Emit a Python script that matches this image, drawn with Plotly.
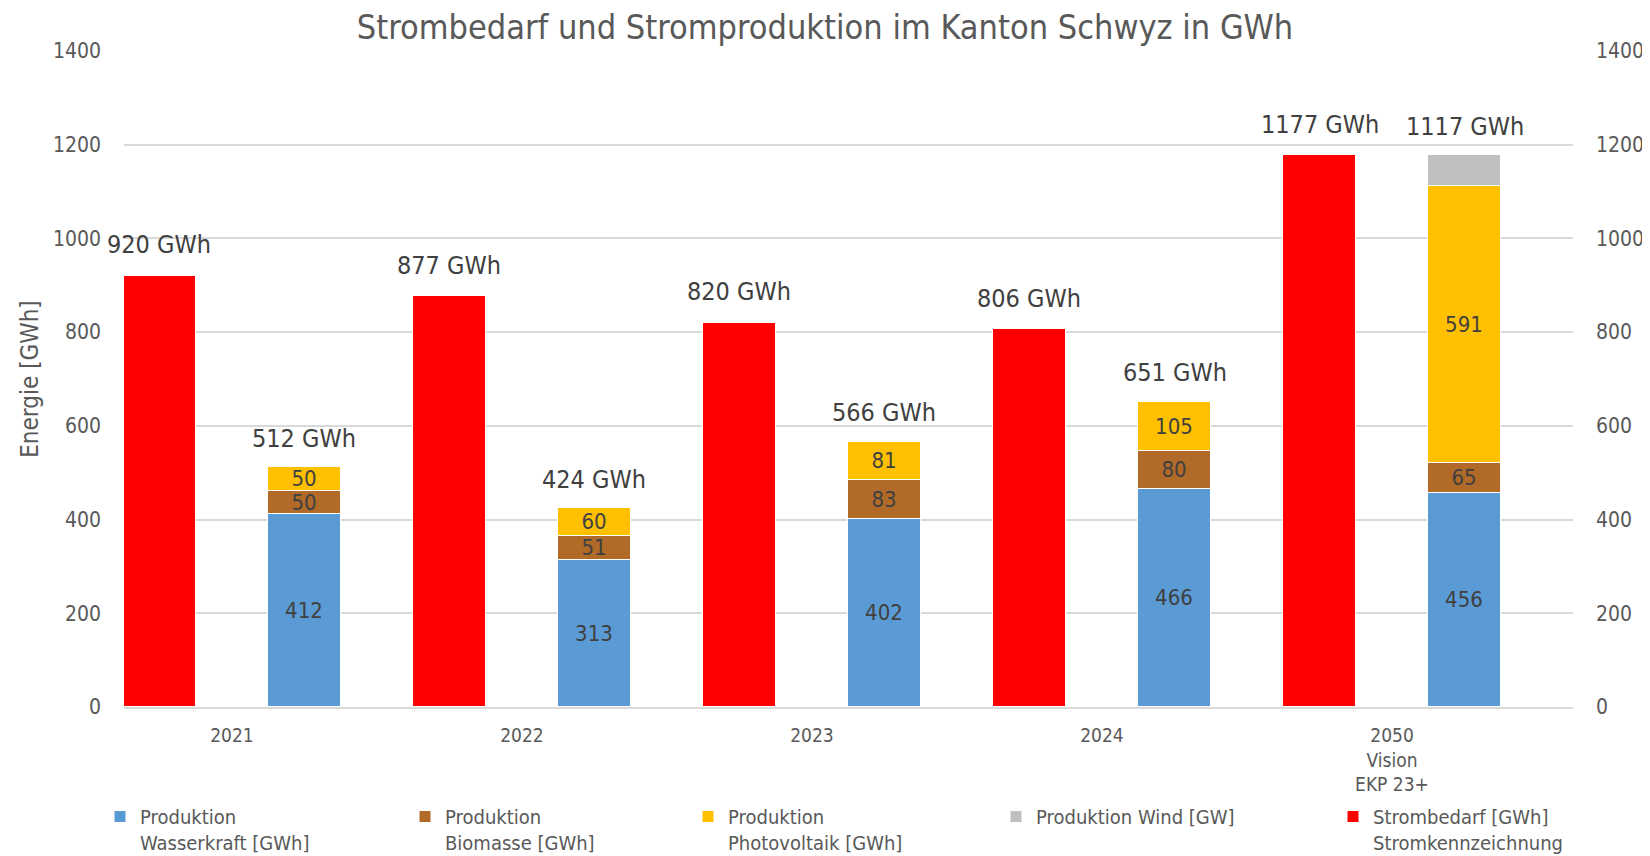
import plotly.graph_objects as go

# Daten (GWh)
jahre = ["2021", "2022", "2023", "2024", "2050<br>Vision<br>EKP 23+"]
strombedarf = [920, 877, 820, 806, 1177]
wasserkraft = [412, 313, 402, 466, 456]
biomasse = [50, 51, 83, 80, 65]
photovoltaik = [50, 60, 81, 105, 591]
wind = [0, 0, 0, 0, 65]
produktion_labels = ["512 GWh", "424 GWh", "566 GWh", "651 GWh", "1117 GWh"]

FONT = "Liberation Sans Narrow, Arial Narrow, DejaVu Sans Condensed, sans-serif"
GREY_TXT = "#595959"
LBL_TXT = "#404040"

# the html body has an 8px margin, so the figure is drawn 8px smaller
W, H = 1642, 848

idx = list(range(len(jahre)))
x_bedarf = [i - 0.25 for i in idx]
x_prod = [i + 0.25 for i in idx]
breite = 0.25

fig = go.Figure()

def stack(name, werte, farbe, legend, labels=True):
    fig.add_trace(go.Bar(
        x=x_prod, y=werte, width=breite, name=name, legend=legend,
        marker=dict(color=farbe, line=dict(color="white", width=1)),
        text=[str(v) if (labels and v) else "" for v in werte],
        textposition="inside", insidetextanchor="middle", textangle=0,
        constraintext="none",
        textfont=dict(family=FONT, size=22, color=LBL_TXT),
        hoverinfo="name+y",
    ))

stack("Produktion<br>Wasserkraft [GWh]", wasserkraft, "#5B9BD5", "legend")
stack("Produktion<br>Biomasse [GWh]", biomasse, "#B16A28", "legend2")
stack("Produktion<br>Photovoltaik [GWh]", photovoltaik, "#FFC000", "legend3")
stack("Produktion Wind [GW]", wind, "#BFBFBF", "legend4", labels=False)

fig.add_trace(go.Bar(
    x=x_bedarf, y=strombedarf, width=breite, yaxis="y2",
    name="Strombedarf [GWh]<br>Stromkennzeichnung", legend="legend5",
    marker=dict(color="#FF0000", line=dict(color="white", width=1)),
))

# Summenbeschriftungen
for xb, v in zip(x_bedarf, strombedarf):
    fig.add_annotation(x=xb, y=v, text=f"{v} GWh", showarrow=False, yshift=31,
                       font=dict(family=FONT, size=25, color=LBL_TXT))
summen = [a + b + c + d for a, b, c, d in zip(wasserkraft, biomasse, photovoltaik, wind)]
for xp, s, t in zip(x_prod, summen, produktion_labels):
    fig.add_annotation(x=xp, y=s, text=t, showarrow=False, yshift=29,
                       font=dict(family=FONT, size=25, color=LBL_TXT))

# Legenden einzeln positionieren
leg_px = [120, 425, 708, 1016, 1353]
plot_l, plot_w = 124, 1449
legends = {}
for k, px in enumerate(leg_px):
    key = "legend" if k == 0 else f"legend{k + 1}"
    legends[key] = dict(
        x=(px - 20 - plot_l) / plot_w, xref="paper",
        y=1 - 789 / H, yref="container", xanchor="left", yanchor="top",
        orientation="h", valign="top", bgcolor="rgba(0,0,0,0)",
        font=dict(family=FONT, size=20, color=GREY_TXT),
    )

achse = dict(
    range=[0, 1400], tickvals=[0, 200, 400, 600, 800, 1000, 1200, 1400],
    tickfont=dict(family=FONT, size=21, color=GREY_TXT),
    ticklabelstandoff=22, zeroline=False, automargin=False,
)

fig.update_layout(
    width=W, height=H,
    margin=dict(l=116, r=77, t=43, b=149),
    paper_bgcolor="white", plot_bgcolor="white",
    barmode="stack", bargap=0,
    showlegend=True,
    uniformtext=dict(minsize=22, mode="show"),
    title=dict(text="Strombedarf und Stromproduktion im Kanton Schwyz in GWh",
               x=817 / W, xanchor="center", y=1 - 19 / H, yanchor="middle",
               font=dict(family=FONT, size=34, color=GREY_TXT)),
    xaxis=dict(
        range=[-0.372, 4.624], tickvals=idx, ticktext=jahre,
        tickfont=dict(family=FONT, size=19, color=GREY_TXT),
        showgrid=False, showline=True, linecolor="#D9D9D9", linewidth=2,
        ticks="", ticklabelstandoff=10, automargin=False,
    ),
    yaxis=dict(
        **achse, showgrid=True, gridcolor="#D9D9D9", gridwidth=2,
        title=dict(text="Energie [GWh]", standoff=7,
                   font=dict(family=FONT, size=24, color=GREY_TXT)),
    ),
    yaxis2=dict(**achse, overlaying="y", side="right", showgrid=False),
    **legends,
)

fig.write_html("out.html")
